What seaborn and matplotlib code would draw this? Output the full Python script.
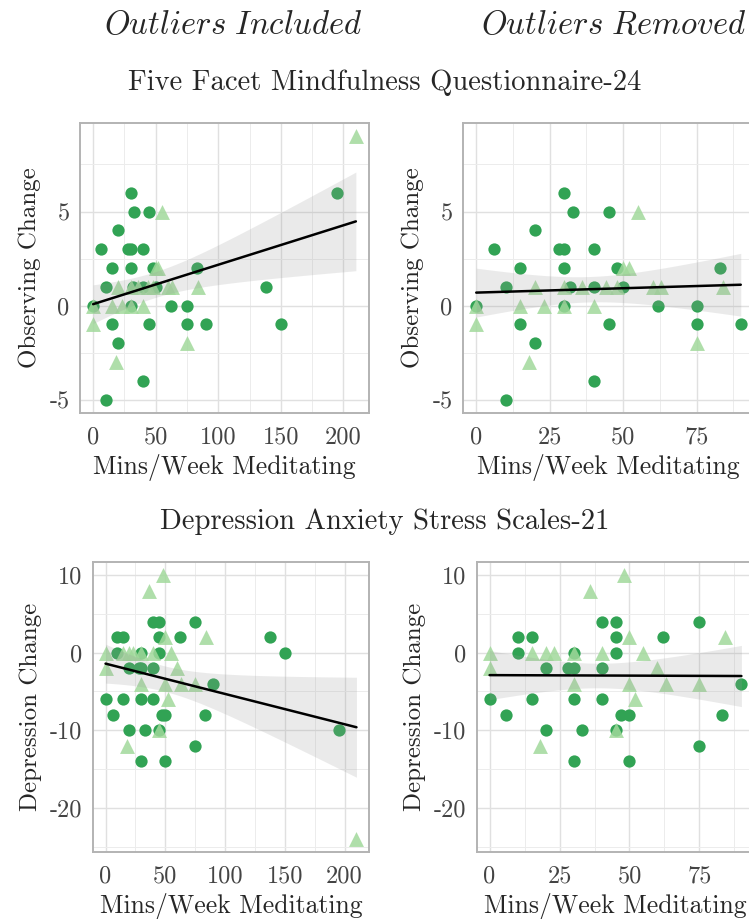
import numpy as np
import pandas as pd
import matplotlib
matplotlib.use("Agg")
import matplotlib.pyplot as plt
import seaborn as sns
from matplotlib.ticker import MultipleLocator

# ---- Observing change (FFMQ-24) vs. weekly meditation minutes ----
obs_circle_x = [30, 33, 45, 20, 6, 28, 30, 40, 15, 30, 48, 83, 10, 32, 40, 50,
                0, 30, 62, 75, 15, 45, 75, 90, 20, 40, 10, 138, 150, 195]
obs_circle_y = [6, 5, 5, 4, 3, 3, 3, 3, 2, 2, 2, 2, 1, 1, 1, 1,
                0, 0, 0, 0, -1, -1, -1, -1, -2, -4, -5, 1, -1, 6]
obs_tri_x = [55, 50, 52, 20, 30, 36, 44, 48, 60, 63, 84, 0, 15, 23, 30, 40, 0, 75, 18, 210]
obs_tri_y = [5, 2, 2, 1, 1, 1, 1, 1, 1, 1, 1, 0, 0, 0, 0, 0, -1, -2, -3, 9]

# ---- Depression change (DASS-21) vs. weekly meditation minutes ----
dep_circle_x = [40, 45, 75, 10, 15, 45, 62, 10, 30, 45, 20, 28, 30, 40, 90, 0, 15, 30, 40,
                6, 47, 50, 83, 20, 33, 45, 75, 30, 50, 138, 150, 195]
dep_circle_y = [4, 4, 4, 2, 2, 2, 2, 0, 0, 0, -2, -2, -2, -2, -4, -6, -6, -6, -6,
                -8, -8, -8, -8, -10, -10, -10, -12, -14, -14, 2, 0, -10]
dep_tri_x = [48, 36, 50, 84, 0, 15, 20, 23, 30, 40, 55, 0, 60, 30, 50, 63, 75, 52, 45, 18, 210]
dep_tri_y = [10, 8, 2, 2, 0, 0, 0, 0, 0, 0, 0, -2, -2, -4, -4, -4, -4, -6, -10, -12, -24]

outlier_cutoff = 100  # weekly minutes above this are treated as outliers

x_label = "Mins/Week Meditating"
col_titles = ["Outliers Included", "Outliers Removed"]
row_titles = ["Five Facet Mindfulness Questionnaire-24", "Depression Anxiety Stress Scales-21"]
y_labels = ["Observing Change", "Depression Change"]

DARK = "#31a354"
LIGHT = "#a1d99b"

sns.set_style("white")
plt.rcParams["font.family"] = ["cmr10", "DejaVu Serif"]
plt.rcParams["mathtext.fontset"] = "cm"
plt.rcParams["axes.unicode_minus"] = False
plt.rcParams["axes.formatter.use_mathtext"] = False


def make_frame(cx, cy, tx, ty):
    return pd.concat([
        pd.DataFrame({"mins": cx, "change": cy, "group": "a"}),
        pd.DataFrame({"mins": tx, "change": ty, "group": "b"}),
    ], ignore_index=True)


obs = make_frame(obs_circle_x, obs_circle_y, obs_tri_x, obs_tri_y)
dep = make_frame(dep_circle_x, dep_circle_y, dep_tri_x, dep_tri_y)


def t975(dof):
    # Cornish-Fisher expansion of the Student t 97.5% quantile
    z = 1.959963985
    g1 = (z**3 + z) / 4
    g2 = (5 * z**5 + 16 * z**3 + 3 * z) / 96
    g3 = (3 * z**7 + 19 * z**5 + 17 * z**3 - 15 * z) / 384
    return z + g1 / dof + g2 / dof**2 + g3 / dof**3


def ols_band(x, y, grid):
    # 95% confidence band for the mean of a simple linear fit
    x = np.asarray(x, float)
    y = np.asarray(y, float)
    n = len(x)
    b1, b0 = np.polyfit(x, y, 1)
    resid = y - (b0 + b1 * x)
    s = np.sqrt(np.sum(resid**2) / (n - 2))
    xm = x.mean()
    se = s * np.sqrt(1 / n + (grid - xm) ** 2 / np.sum((x - xm) ** 2))
    fit = b0 + b1 * grid
    t = t975(n - 2)
    return fit - t * se, fit + t * se


W, H = 749, 919
fig = plt.figure(figsize=(W / 100, H / 100), dpi=100)


def px_axes(left, top, right, bottom):
    return fig.add_axes([left / W, 1 - bottom / H, (right - left) / W, (bottom - top) / H])


def draw_panel(ax, df, xlim, xmaj, ylim, ymaj, ylabel):
    circ = df[df.group == "a"]
    tri = df[df.group == "b"]
    sns.scatterplot(x=circ.mins, y=circ.change, ax=ax, color=DARK, marker="o",
                    s=78, linewidth=0, alpha=1.0)
    sns.scatterplot(x=tri.mins, y=tri.change, ax=ax, color=LIGHT, marker="^",
                    s=115, linewidth=0, alpha=0.85)
    grid = np.linspace(df.mins.min(), df.mins.max(), 100)
    lo, hi = ols_band(df.mins, df.change, grid)
    ax.fill_between(grid, lo, hi, color="#999999", alpha=0.2, linewidth=0)
    sns.regplot(x=df.mins, y=df.change, ax=ax, scatter=False, ci=None, color="black",
                line_kws=dict(lw=1.8), truncate=True)
    ax.set_xlim(*xlim)
    ax.set_ylim(*ylim)
    ax.xaxis.set_major_locator(MultipleLocator(xmaj))
    ax.xaxis.set_minor_locator(MultipleLocator(xmaj / 2))
    ax.yaxis.set_major_locator(MultipleLocator(ymaj))
    ax.yaxis.set_minor_locator(MultipleLocator(ymaj / 2))
    ax.set_axisbelow(True)
    ax.grid(which="major", color="#e0e0e0", lw=1.0)
    ax.grid(which="minor", color="#ececec", lw=0.7)
    for sp in ax.spines.values():
        sp.set_color("#b3b3b3")
        sp.set_linewidth(1.4)
    ax.tick_params(which="major", length=4.5, width=1, color="#b3b3b3",
                   labelcolor="#444444", labelsize=17.5, pad=3)
    ax.tick_params(axis="x", which="major", pad=5)
    ax.tick_params(which="minor", length=0)
    ax.set_xlabel(x_label, fontsize=18.5, labelpad=4)
    ax.set_ylabel(ylabel, fontsize=18, labelpad=6)


ax_tl = px_axes(80, 123, 369, 413)
ax_tr = px_axes(463, 123, 754, 413)
ax_bl = px_axes(93, 562, 369, 852)
ax_br = px_axes(477, 562, 754, 852)

obs_lim = (-5.7, 9.7)
dep_lim = (-25.7, 11.7)

draw_panel(ax_tl, obs, (-10.5, 220.5), 50, obs_lim, 5, y_labels[0])
draw_panel(ax_tr, obs[obs.mins < outlier_cutoff], (-4.5, 94.5), 25, obs_lim, 5, y_labels[0])
draw_panel(ax_bl, dep, (-10.5, 220.5), 50, dep_lim, 10, y_labels[1])
draw_panel(ax_br, dep[dep.mins < outlier_cutoff], (-4.5, 94.5), 25, dep_lim, 10, y_labels[1])


def ftext(x, y, s, size, **kw):
    fig.text(x / W, 1 - y / H, s, ha="center", va="center", fontsize=size, **kw)


ftext(233, 25, r"$\mathit{Outliers\ Included}$", 23.5)
ftext(614, 25, r"$\mathit{Outliers\ Removed}$", 23.5)
ftext(385, 83, row_titles[0], 20.6)
ftext(385, 522, row_titles[1], 20.6)

fig.savefig("out.png", dpi=100)
